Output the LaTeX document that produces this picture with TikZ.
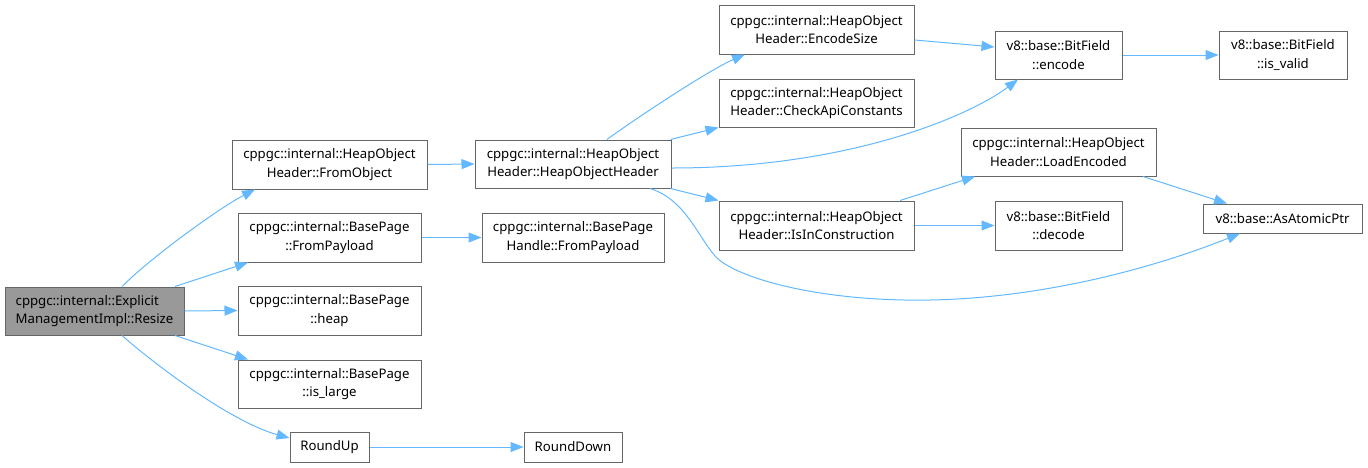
\documentclass[tikz,border=0pt]{standalone}
\usepackage{fontspec}
\setmainfont{Noto Sans}
\usetikzlibrary{arrows.meta}
\definecolor{edgeblue}{HTML}{63B8FF}
\definecolor{boxgray}{HTML}{666666}
\definecolor{rootgray}{HTML}{999999}
\tikzset{
  box/.style={draw=boxgray, fill=white, line width=1pt, inner sep=0pt, align=center,
    font=\fontsize{13.2}{18.5}\selectfont, text=black},
  edge/.style={draw=edgeblue, line width=1pt, -{Triangle[length=13pt,width=10pt]}},
}
\begin{document}
\begin{tikzpicture}[x=1pt,y=-1pt]
\useasboundingbox (0,0) rectangle (1368,467);
% nodes
\node[box, fill=rootgray, align=left, minimum width=179pt, minimum height=48pt] (resize) at (94.5,311) {cppgc::internal::Explicit\\ManagementImpl::Resize};
\node[box, minimum width=195pt, minimum height=49pt] (fromobject) at (329.5,164.5) {cppgc::internal::HeapObject\\Header::FromObject};
\node[box, minimum width=183pt, minimum height=49pt] (bpfrompayload) at (329.5,237.5) {cppgc::internal::BasePage\\::FromPayload};
\node[box, minimum width=183pt, minimum height=49pt] (heap) at (329.5,310.5) {cppgc::internal::BasePage\\::heap};
\node[box, minimum width=183pt, minimum height=48pt] (islarge) at (329.5,384) {cppgc::internal::BasePage\\::is\_large};
\node[box, minimum width=79pt, minimum height=30pt] (roundup) at (329.5,447) {RoundUp};
\node[box, minimum width=196pt, minimum height=48pt] (hoh) at (573,164) {cppgc::internal::HeapObject\\Header::HeapObjectHeader};
\node[box, minimum width=182pt, minimum height=49pt] (bphfrompayload) at (573,237.5) {cppgc::internal::BasePage\\Handle::FromPayload};
\node[box, minimum width=98pt, minimum height=30pt] (rounddown) at (573,447) {RoundDown};
\node[box, minimum width=195pt, minimum height=49pt] (encodesize) at (816.5,29.5) {cppgc::internal::HeapObject\\Header::EncodeSize};
\node[box, minimum width=195pt, minimum height=48pt] (checkapi) at (816.5,103) {cppgc::internal::HeapObject\\Header::CheckApiConstants};
\node[box, minimum width=195pt, minimum height=49pt] (isinconstruction) at (816.5,225.5) {cppgc::internal::HeapObject\\Header::IsInConstruction};
\node[box, minimum width=127pt, minimum height=48pt] (encode) at (1058.5,55) {v8::base::BitField\\::encode};
\node[box, minimum width=195pt, minimum height=48pt] (loadencoded) at (1058.5,152) {cppgc::internal::HeapObject\\Header::LoadEncoded};
\node[box, minimum width=127pt, minimum height=49pt] (decode) at (1058.5,225.5) {v8::base::BitField\\::decode};
\node[box, minimum width=128pt, minimum height=48pt] (isvalid) at (1283,55) {v8::base::BitField\\::is\_valid};
\node[box, minimum width=159pt, minimum height=29pt] (asatomicptr) at (1282.5,218.5) {v8::base::AsAtomicPtr};
% edges
\draw[edge] ([xshift=27.5pt]resize.north) .. controls +(30,-30) and +(-35,18) .. ([xshift=-74.5pt]fromobject.south);
\draw[edge] ([xshift=80.5pt]resize.north) -- ([xshift=-81.5pt]bpfrompayload.south);
\draw[edge] (resize.east) -- (heap.west);
\draw[edge] ([xshift=80.5pt]resize.south) -- ([xshift=-81.5pt]islarge.north);
\draw[edge] ([xshift=27.5pt]resize.south) .. controls +(40,35) and +(-55,-15) .. ([yshift=9pt]roundup.west);
\draw[edge] (fromobject.east) -- (hoh.west);
\draw[edge] (bpfrompayload.east) -- (bphfrompayload.west);
\draw[edge] (roundup.east) -- (rounddown.west);
\draw[edge] ([xshift=34pt]hoh.north) .. controls +(30,-22) and +(-35,15) .. ([xshift=-71.5pt]encodesize.south);
\draw[edge] ([xshift=-1pt]hoh.north east) -- (checkapi.south west);
\draw[edge] ([yshift=-4pt]hoh.east) .. controls +(179,0) and +(-48,36) .. ([xshift=-40.5pt]encode.south);
\draw[edge] ([xshift=-1pt]hoh.south east) -- (isinconstruction.north west);
\draw[edge] ([xshift=77pt]hoh.south) .. controls +(35,11) and +(-18,-21) .. (715,256)
  .. controls +(20,22) and +(-110,2) .. (930,300)
  .. controls +(110,-2) and +(-90,36) .. ([xshift=-42.5pt]asatomicptr.south);
\draw[edge] ([yshift=-10.5pt]encodesize.east) -- ([yshift=8pt]encode.west);
\draw[edge] (encode.east) -- (isvalid.west);
\draw[edge] ([xshift=83.5pt]isinconstruction.north) -- ([xshift=-83.5pt]loadencoded.south);
\draw[edge] (isinconstruction.east) -- (decode.west);
\draw[edge] ([xshift=84.5pt]loadencoded.south) -- ([xshift=-55.5pt]asatomicptr.north);
\end{tikzpicture}
\end{document}
